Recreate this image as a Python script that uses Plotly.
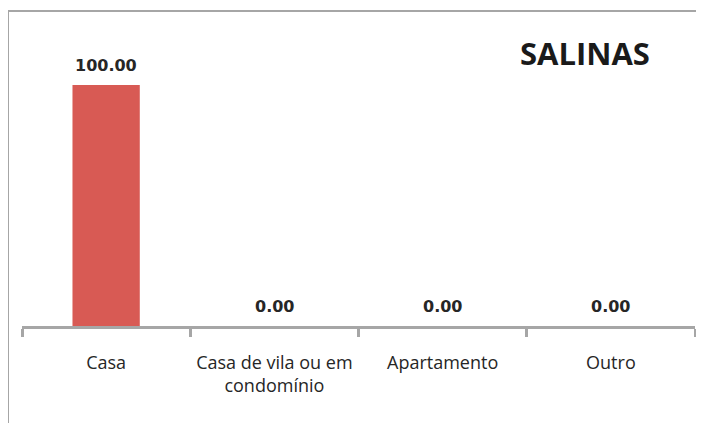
import plotly.graph_objects as go

categories = ["Casa", "Casa de vila ou em<br>condomínio", "Apartamento", "Outro"]
values = [100.0, 0.0, 0.0, 0.0]
title_text = "SALINAS"

fig = go.Figure()
fig.add_trace(go.Bar(
    x=categories,
    y=values,
    width=0.4,
    marker=dict(color="#D85A54", line=dict(width=0)),
    hoverinfo="x+y",
))

fig.update_layout(
    width=696, height=415,
    margin=dict(l=14, r=9, t=22, b=97),
    paper_bgcolor="white",
    plot_bgcolor="white",
    showlegend=False,
    xaxis=dict(
        type="category",
        range=[-0.5, 3.5],
        showline=True, linecolor="#A6A6A6", linewidth=3,
        ticks="outside", tickson="boundaries", ticklen=8, tickwidth=3, tickcolor="#A6A6A6",
        tickfont=dict(family="Open Sans", size=18, color="#262626"),
        ticklabelstandoff=18,
        showgrid=False, zeroline=False,
    ),
    yaxis=dict(
        range=[0, 122.8],
        visible=False,
        showgrid=False, zeroline=False,
    ),
    shapes=[
        dict(type="line", xref="paper", yref="paper", x0=-0.0208, x1=1.03, y0=1.064, y1=1.064,
             line=dict(color="#A6A6A6", width=2)),
        dict(type="line", xref="paper", yref="paper", x0=-0.0208, x1=-0.0208, y0=1.064, y1=-0.4,
             line=dict(color="#A6A6A6", width=2)),
    ],
)

fig.add_annotation(
    text=f"<b>{title_text}</b>", xref="paper", yref="paper", x=0.8366, y=0.922,
    xanchor="center", yanchor="middle", showarrow=False,
    font=dict(family="Open Sans", size=31, color="#1a1a1a"),
)

for c, v in zip(categories, values):
    fig.add_annotation(
        x=c, y=v, text=f"<b>{v:.2f}</b>", showarrow=False,
        xanchor="center", yanchor="bottom", yshift=8,
        font=dict(family="DejaVu Sans", size=16, color="#262626"),
    )

fig.write_html("out.html")
